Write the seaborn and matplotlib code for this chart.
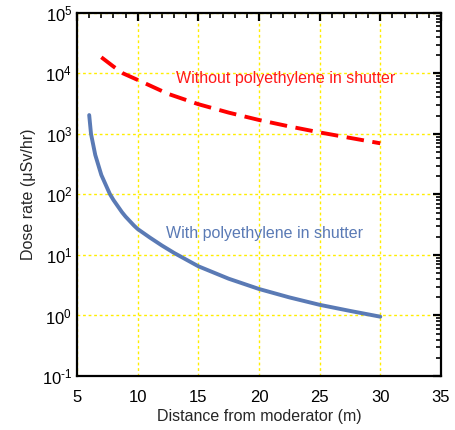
import numpy as np
import pandas as pd
import matplotlib
matplotlib.use("Agg")
import matplotlib.pyplot as plt
import matplotlib.ticker as mticker
import seaborn as sns

# data
dist_without = [7, 8, 8.8, 10, 12.5, 15, 17.5, 20, 22.5, 25, 27.5, 30]
dose_without = [18500, 13000, 10000, 7800, 4600, 3100, 2250, 1700, 1330, 1060, 860, 700]

dist_with = [6, 6.15, 6.5, 7, 7.7, 8, 8.7, 9, 9.7, 10, 11, 12, 13, 15, 17.5, 20, 22.5, 25, 27.5, 30]
dose_with = [2050, 1000, 450, 210, 102, 81, 51, 43, 30.5, 26.8, 19.4, 14.3, 10.8, 6.5, 4.05, 2.74, 1.99, 1.5, 1.19, 0.955]

label_without = "Without polyethylene in shutter"
label_with = "With polyethylene in shutter"

sns.set_style("white")
plt.rcParams['font.family'] = ['Liberation Sans', 'DejaVu Sans']
plt.rcParams['mathtext.fontset'] = 'custom'
plt.rcParams['mathtext.rm'] = 'Liberation Sans'
plt.rcParams['mathtext.it'] = 'Liberation Sans'
plt.rcParams['mathtext.default'] = 'regular'

df_without = pd.DataFrame({'x': dist_without, 'y': dose_without})
df_with = pd.DataFrame({'x': dist_with, 'y': dose_with})

fig = plt.figure(figsize=(4.56, 4.30), dpi=100)
ax = fig.add_axes([0.169, 0.1256, 0.798, 0.8444])

sns.lineplot(data=df_without, x='x', y='y', ax=ax, color='#ff0000', lw=2.8)
ax.lines[-1].set_dashes([4.5, 2.2])
ax.lines[-1].set_dash_capstyle('butt')
sns.lineplot(data=df_with, x='x', y='y', ax=ax, color='#5a7ab5', lw=2.8)
ax.lines[-1].set_solid_joinstyle('round')

ax.set_yscale('log')
ax.set_xlim(5, 35)
ax.set_ylim(1e-1, 1e5)
ax.set_xticks(np.arange(5, 36, 5))
ax.xaxis.set_minor_locator(mticker.MultipleLocator(1))
ax.yaxis.set_major_locator(mticker.LogLocator(base=10, numticks=10))
ax.yaxis.set_minor_locator(mticker.LogLocator(base=10, subs=np.arange(2, 10), numticks=20))
ax.yaxis.set_minor_formatter(mticker.NullFormatter())


def pow_label(v, pos):
    e = int(round(np.log10(v)))
    s = str(e).replace('-', '\u2010')
    return '$10^{' + s + '}$'


ax.yaxis.set_major_formatter(mticker.FuncFormatter(pow_label))

ax.grid(True, which='major', color='#ffee00', ls=(0, (2, 2)), lw=1)
for s in ax.spines.values():
    s.set_color('black')
    s.set_linewidth(1.6)
ax.tick_params(which='both', direction='in', top=True, right=True,
               colors='black', labelsize=12)
ax.tick_params(which='major', length=6, width=1.6)
ax.tick_params(which='minor', length=3.5, width=1.2)
ax.tick_params(axis='x', pad=10)

ax.set_xlabel('Distance from moderator (m)', fontsize=11.5, labelpad=3)
ax.set_ylabel('Dose rate (\u03bcSv/hr)', fontsize=11.5, labelpad=4)

ax.text(13.16, 8300, label_without, color='#ff1a1a', fontsize=11.5, va='center', ha='left')
ax.text(12.34, 22.8, label_with, color='#5a7ab5', fontsize=11.5, va='center', ha='left')

fig.savefig('out.png', dpi=100)
